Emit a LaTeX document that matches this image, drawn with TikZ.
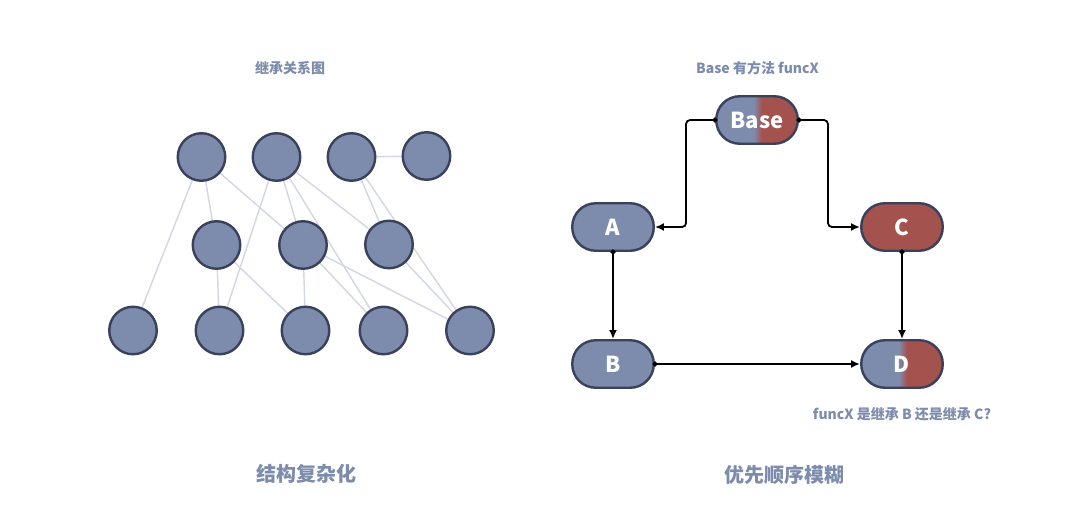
\documentclass[tikz,border=0pt]{standalone}
\usepackage{fontspec}
\usepackage{tikz}
\usetikzlibrary{arrows,arrows.meta,backgrounds}
\setmainfont{Noto Sans CJK SC}
\definecolor{slate}{HTML}{7D8CAD}
\definecolor{brick}{HTML}{A4524E}
\definecolor{rim}{HTML}{39425A}
\definecolor{faint}{HTML}{D3D6E6}
\pgfdeclarehorizontalshading{halfred}{100bp}{color(0bp)=(slate); color(48bp)=(slate); color(53bp)=(brick); color(100bp)=(brick)}

\begin{document}
\begin{tikzpicture}[x=1pt,y=-1pt,node distance=137pt,
  main node/.style={circle,fill=slate,draw=rim,line width=2.4pt,minimum size=47.5pt,inner sep=0pt},
  class node/.style={rectangle,rounded corners=23.5pt,fill=slate,draw=rim,line width=2.4pt,
    minimum width=81.5pt,minimum height=47.5pt,inner sep=0pt,text=white,font=\bfseries\fontsize{22}{22}\selectfont},
  caption/.style={text=slate,font=\bfseries\fontsize{14}{14}\selectfont},
  heading/.style={text=slate,font=\bfseries\fontsize{20}{20}\selectfont},
  link/.style={line width=1.8pt,rounded corners=4pt,
    {Circle[length=5pt,sep=-2.5pt]}-{Latex[length=9pt,width=8pt]}}]

  \useasboundingbox (0,0) rectangle (1080,521);

  % left: inheritance graph
  \node[caption] (graphtitle) at (290,68.5) {继承关系图};
  \node[main node] (t1) at (201.5,157) {};
  \node[main node] (t2) at (276.5,157) {};
  \node[main node] (t3) at (351.5,157) {};
  \node[main node] (t4) at (426.5,156) {};
  \node[main node] (m1) at (216.5,245) {};
  \node[main node] (m2) at (303,245) {};
  \node[main node] (m3) at (389,244.5) {};
  \node[main node] (b1) at (133,330.5) {};
  \node[main node] (b2) at (219.5,330.5) {};
  \node[main node] (b3) at (305.5,330.5) {};
  \node[main node] (b4) at (383.5,330.5) {};
  \node[main node] (b5) at (470,330.5) {};
  \node[heading] (graphnote) at (306,474) {结构复杂化};

  \begin{scope}[on background layer,every edge/.style={draw=faint,line width=1.4pt}]
  \fill[white] (0,0) rectangle (1080,521);
  \path
    (t1) edge (b1)
    (t1) edge (m1)
    (t1) edge (m2)
    (t2) edge (b2)
    (t2) edge (m2)
    (t2) edge (b4)
    (t2) edge (m3)
    (t3) edge (t4)
    (t3) edge (m3)
    (t3) edge (b5)
    (m1) edge (b2)
    (m1) edge (b3)
    (m2) edge (b3)
    (m2) edge (b4)
    (m2) edge (b5)
    (m3) edge (b5);
  \end{scope}

  % right: diamond inheritance
  \node[caption] (basetitle) at (757.5,68.5) {Base 有方法 funcX};
  \node[class node,shading=halfred] (base) at (757,120) {Base};
  \node[class node] (a) at (613,227) {A};
  \node[class node,fill=brick,node distance=289pt,right of=a] (c) {C};
  \node[class node] (b) [below of=a] {B};
  \node[class node,shading=halfred] (d) [below of=c] {D};
  \node[caption] (question) at (902,414) {funcX 是继承 B 还是继承 C?};
  \node[heading] (ordernote) at (784,475) {优先顺序模糊};

  \draw[link] (base.west) -- ++(-29,0) |- (a.east);
  \draw[link] (base.east) -- ++(29,0) |- (c.west);
  \draw[link] (a.south) -- (b.north);
  \draw[link] (c.south) -- (d.north);
  \draw[link] (b.east) -- (d.west);
\end{tikzpicture}
\end{document}
